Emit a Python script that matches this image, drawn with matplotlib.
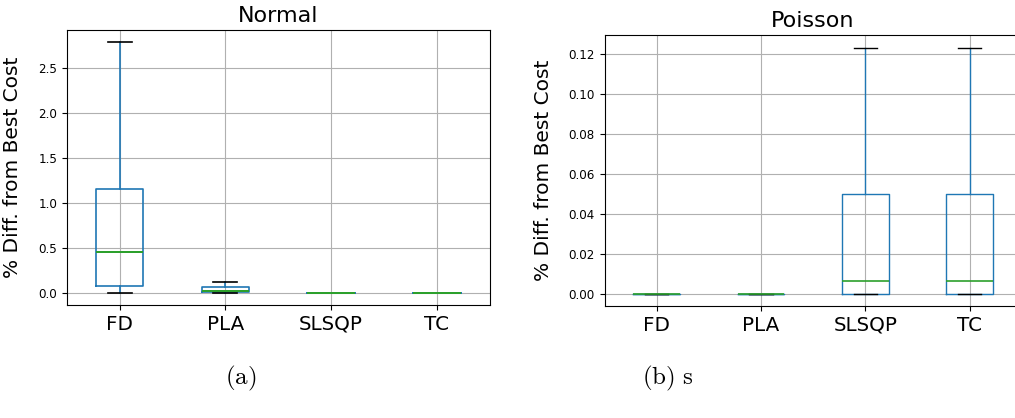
import matplotlib
matplotlib.use("Agg")
import matplotlib.pyplot as plt

methods = ["FD", "PLA", "SLSQP", "TC"]

# box statistics per method (% difference from best cost)
normal_whislo = [0.0, 0.0, 0.0, 0.0]
normal_q1 = [0.07, 0.004, 0.0, 0.0]
normal_med = [0.45, 0.015, 0.0, 0.0]
normal_q3 = [1.16, 0.063, 0.0, 0.0]
normal_whishi = [2.79, 0.115, 0.0, 0.0]

poisson_whislo = [0.0, 0.0, 0.0, 0.0]
poisson_q1 = [0.0, 0.0, 0.0, 0.0]
poisson_med = [0.0, 0.0, 0.0065, 0.0065]
poisson_q3 = [0.0, 0.0, 0.05, 0.05]
poisson_whishi = [0.0, 0.0, 0.123, 0.123]

plt.rcParams['mathtext.fontset'] = 'cm'


def make_stats(lo, q1, med, q3, hi):
    stats = []
    for i in range(len(methods)):
        stats.append(dict(label=methods[i], whislo=lo[i], q1=q1[i], med=med[i],
                          q3=q3[i], whishi=hi[i], fliers=[]))
    return stats


def draw(ax, stats, title, lw=1.0):
    ax.bxp(stats, widths=0.45,
           boxprops=dict(color='#1f77b4', linewidth=lw),
           whiskerprops=dict(color='#1f77b4', linewidth=lw),
           medianprops=dict(color='#2ca02c', linewidth=lw * 1.2),
           capprops=dict(color='k', linewidth=lw))
    ax.grid(True)
    ax.set_axisbelow(True)
    ax.set_title(title, fontsize=16)
    ax.set_ylabel('% Diff. from Best Cost', fontsize=14.5)
    ax.tick_params(axis='x', labelsize=14.3)
    ax.tick_params(axis='y', labelsize=8.6)


fig = plt.figure(figsize=(10.15, 4.18), dpi=100)
ax1 = fig.add_axes([0.0658, 0.2703, 0.4167, 0.658])
ax2 = fig.add_axes([0.5956, 0.268, 0.4110, 0.6476])

draw(ax1, make_stats(normal_whislo, normal_q1, normal_med, normal_q3, normal_whishi), 'Normal', lw=1.2)
draw(ax2, make_stats(poisson_whislo, poisson_q1, poisson_med, poisson_q3, poisson_whishi), 'Poisson')

ax1.yaxis.set_label_coords(-0.105, 0.5)
ax2.yaxis.set_label_coords(-0.123, 0.5)

fig.text(241 / 1015, 1 - 378 / 418, r'$\mathrm{(a)}$', fontsize=18, ha='center', va='center')
fig.text(668 / 1015, 1 - 378 / 418, r'$\mathrm{(b)\ s}$', fontsize=18, ha='center', va='center')

fig.savefig('out.png', dpi=100)
